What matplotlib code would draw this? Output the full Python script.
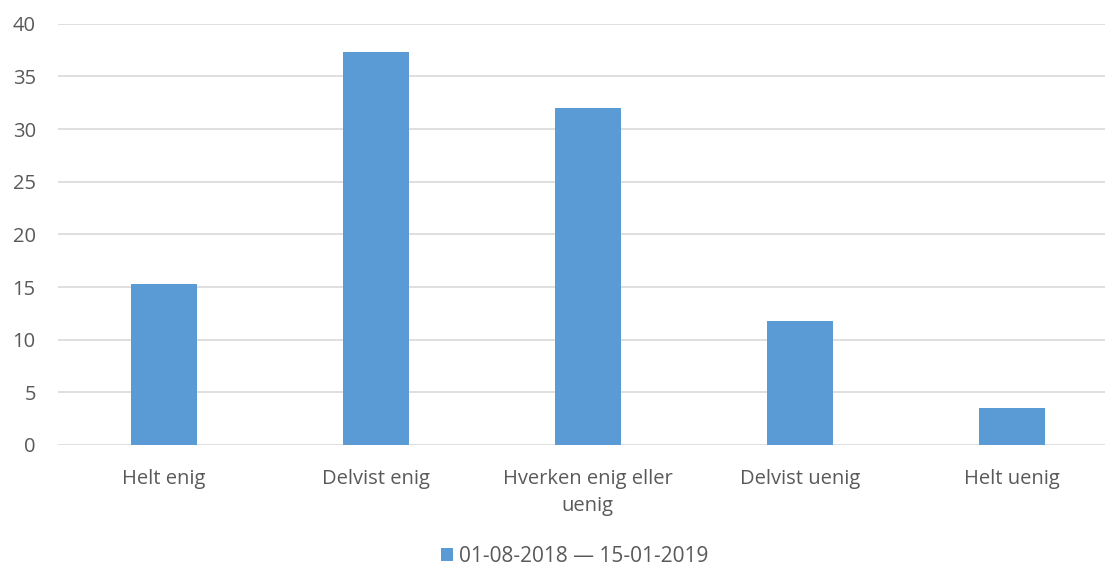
import numpy as np
import matplotlib.pyplot as plt
from matplotlib.patches import Patch

categories = ['Helt enig', 'Delvist enig', 'Hverken enig eller\nuenig', 'Delvist uenig', 'Helt uenig']
values = [15.3, 37.3, 32.0, 11.8, 3.5]
series_label = '01-08-2018 \u2014 15-01-2019'

plt.rcParams['font.family'] = ['Open Sans', 'DejaVu Sans']
text_color = '#595959'
bar_color = '#5b9bd5'

fig = plt.figure(figsize=(11.05, 5.7), dpi=100)
ax = fig.add_axes([58 / 1105, 125 / 570, 1 - 58 / 1105, (445 - 23.7) / 570])

x = np.arange(len(categories))
ax.bar(x, values, width=0.31, color=bar_color, zorder=3)

ax.set_ylim(0, 40)
ax.set_xlim(-0.5, 4.44)
ax.set_yticks(np.arange(0, 41, 5))
ax.set_xticks(x)
ax.set_xticklabels(categories, linespacing=1.5)
ax.yaxis.grid(True, color='#d9d9d9', linewidth=1.2, zorder=0)
ax.tick_params(axis='both', length=0, labelsize=14.5, colors=text_color)
ax.tick_params(axis='x', pad=17)
ax.tick_params(axis='y', pad=16)
for s in ax.spines.values():
    s.set_visible(False)

handle = Patch(facecolor=bar_color)
fig.legend([handle], [series_label], loc='center', bbox_to_anchor=(0.52, 0.024),
           frameon=False, fontsize=15, labelcolor=text_color,
           handlelength=0.6, handleheight=0.6, handletextpad=0.3)

fig.savefig('out.png', dpi=100)
